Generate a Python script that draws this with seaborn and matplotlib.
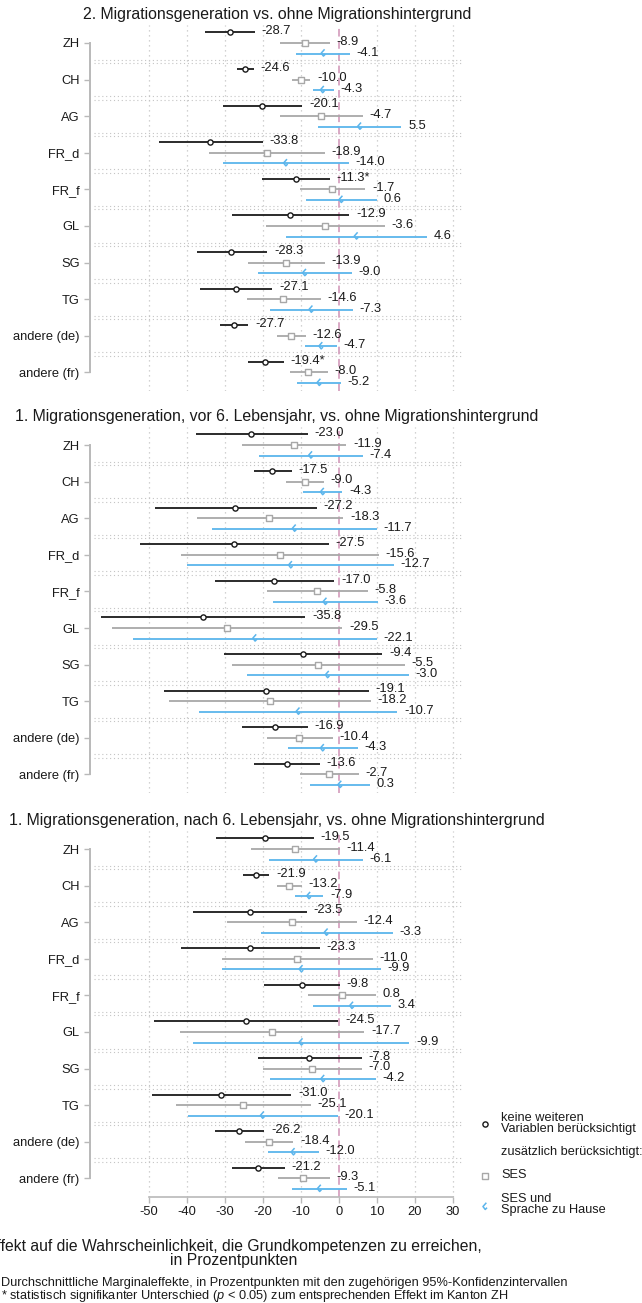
import numpy as np
import pandas as pd
import matplotlib
matplotlib.use("Agg")
import matplotlib.pyplot as plt
from matplotlib.path import Path
from matplotlib.markers import MarkerStyle
import seaborn as sns

# ---------------- data ----------------
cantons = ["ZH", "CH", "AG", "FR_d", "FR_f", "GL", "SG", "TG", "andere (de)", "andere (fr)"]
titles = [
    "2. Migrationsgeneration vs. ohne Migrationshintergrund",
    "1. Migrationsgeneration, vor 6. Lebensjahr, vs. ohne Migrationshintergrund",
    "1. Migrationsgeneration, nach 6. Lebensjahr, vs. ohne Migrationshintergrund",
]
x_ticks = [-50, -40, -30, -20, -10, 0, 10, 20, 30]

# panel 1: 2. Generation
p1_none_est = [-28.7, -24.6, -20.1, -33.8, -11.3, -12.9, -28.3, -27.1, -27.7, -19.4]
p1_none_lo = [-35.3, -26.8, -30.6, -47.4, -20.2, -28.2, -37.4, -36.6, -31.3, -24.0]
p1_none_hi = [-22.1, -22.4, -9.6, -20.0, -2.4, 2.8, -18.8, -17.5, -23.8, -14.5]
p1_none_sig = [0, 0, 0, 0, 1, 0, 0, 0, 0, 1]
p1_ses_est = [-8.9, -10.0, -4.7, -18.9, -1.7, -3.6, -13.9, -14.6, -12.6, -8.0]
p1_ses_lo = [-15.4, -12.4, -15.4, -34.2, -10.1, -19.2, -23.8, -24.1, -16.4, -12.9]
p1_ses_hi = [-2.4, -7.5, 6.3, -3.7, 7.0, 12.2, -3.7, -4.7, -8.7, -2.8]
p1_lang_est = [-4.1, -4.3, 5.5, -14.0, 0.6, 4.6, -9.0, -7.3, -4.7, -5.2]
p1_lang_lo = [-11.2, -6.9, -5.4, -30.6, -8.6, -13.8, -21.2, -18.1, -8.8, -11.0]
p1_lang_hi = [3.0, -1.3, 16.5, 2.6, 10.0, 23.2, 3.4, 3.7, -0.5, 0.6]

# panel 2: 1. Generation, vor 6. Lebensjahr
p2_none_est = [-23.0, -17.5, -27.2, -27.5, -17.0, -35.8, -9.4, -19.1, -16.9, -13.6]
p2_none_lo = [-37.7, -22.4, -48.4, -52.3, -32.5, -62.5, -30.3, -45.9, -25.5, -22.2]
p2_none_hi = [-8.2, -12.3, -5.8, -2.6, -1.2, -8.8, 11.5, 7.9, -8.2, -5.0]
p2_none_sig = [0] * 10
p2_ses_est = [-11.9, -9.0, -18.3, -15.6, -5.8, -29.5, -5.5, -18.2, -10.4, -2.7]
p2_ses_lo = [-25.4, -13.8, -37.4, -41.5, -19.0, -59.8, -28.2, -44.6, -19.0, -10.3]
p2_ses_hi = [2.0, -4.0, 1.2, 10.5, 7.7, 0.9, 17.3, 8.4, -1.6, 5.2]
p2_lang_est = [-7.4, -4.3, -11.7, -12.7, -3.6, -22.1, -3.0, -10.7, -4.3, 0.3]
p2_lang_lo = [-20.9, -9.5, -33.3, -39.9, -17.2, -54.1, -24.2, -36.7, -13.4, -7.5]
p2_lang_hi = [6.4, 0.9, 10.0, 14.5, 10.2, 10.0, 18.4, 15.4, 5.0, 8.2]

# panel 3: 1. Generation, nach 6. Lebensjahr
p3_none_est = [-19.5, -21.9, -23.5, -23.3, -9.8, -24.5, -7.8, -31.0, -26.2, -21.2]
p3_none_lo = [-32.2, -25.1, -38.5, -41.5, -19.8, -48.6, -21.4, -49.2, -32.5, -28.0]
p3_none_hi = [-6.6, -18.3, -8.5, -5.0, 0.3, -0.1, 6.0, -12.5, -19.6, -14.2]
p3_none_sig = [0] * 10
p3_ses_est = [-11.4, -13.2, -12.4, -11.0, 0.8, -17.7, -7.0, -25.1, -18.4, -9.3]
p3_ses_lo = [-23.1, -16.4, -29.5, -30.8, -8.1, -41.9, -19.9, -42.8, -24.7, -16.1]
p3_ses_hi = [0.3, -9.7, 4.8, 8.9, 9.8, 6.7, 6.0, -7.3, -12.0, -2.4]
p3_lang_est = [-6.1, -7.9, -3.3, -9.9, 3.4, -9.9, -4.2, -20.1, -12.0, -5.1]
p3_lang_lo = [-18.3, -11.5, -20.6, -30.8, -6.9, -38.4, -18.1, -39.7, -18.6, -12.3]
p3_lang_hi = [6.3, -4.1, 14.3, 11.1, 13.8, 18.6, 9.7, -0.3, -5.3, 2.2]

legend_labels = ["keine weiteren\nVariablen berücksichtigt", "zusätzlich berücksichtigt:",
                 "SES", "SES und\nSprache zu Hause"]
xlabel_lines = ["Effekt auf die Wahrscheinlichkeit, die Grundkompetenzen zu erreichen,",
                "in Prozentpunkten"]
note1 = "Durchschnittliche Marginaleffekte, in Prozentpunkten mit den zugehörigen 95%-Konfidenzintervallen"
note2 = r"* statistisch signifikanter Unterschied ($\it{p}$ < 0.05) zum entsprechenden Effekt im Kanton ZH"

# ---------------- style ----------------
sns.set_theme(style="white")
plt.rcParams["font.family"] = ["Liberation Sans", "DejaVu Sans"]
plt.rcParams["mathtext.fontset"] = "custom"
plt.rcParams["mathtext.it"] = "Liberation Sans:italic"
plt.rcParams["mathtext.rm"] = "Liberation Sans"

C_NONE = "#1a1a1a"
C_SES = "#a8a8a8"
C_LANG = "#5bb5ec"
C_AX = "#b9b9b9"
C_GRID = "#c4c4c4"
C_ZERO = "#cf92b5"
TXT = "#1a1a1a"

hook = MarkerStyle(Path([(0.30, 0.95), (-0.45, 0.10), (0.05, -0.55), (0.45, -0.15)],
                        [Path.MOVETO, Path.LINETO, Path.LINETO, Path.LINETO]))

W, H = 642, 1303
fig = plt.figure(figsize=(W / 100, H / 100), dpi=100)

def fx(px):
    return px / W

def fy(py):
    return 1 - py / H

panels = [
    (p1_none_est, p1_none_lo, p1_none_hi, p1_none_sig, p1_ses_est, p1_ses_lo, p1_ses_hi,
     p1_lang_est, p1_lang_lo, p1_lang_hi),
    (p2_none_est, p2_none_lo, p2_none_hi, p2_none_sig, p2_ses_est, p2_ses_lo, p2_ses_hi,
     p2_lang_est, p2_lang_lo, p2_lang_hi),
    (p3_none_est, p3_none_lo, p3_none_hi, p3_none_sig, p3_ses_est, p3_ses_lo, p3_ses_hi,
     p3_lang_est, p3_lang_lo, p3_lang_hi),
]
tops = [24.7, 426.7, 830.7]
title_y = [15, 417, 821]
AX_L, AX_R, AX_H = 90, 463, 366
OFF = 0.29

for k, (ne, nl, nh, ns, se, sl, sh, le, ll, lh) in enumerate(panels):
    top = tops[k]
    ax = fig.add_axes([fx(AX_L), fy(top + AX_H), (AX_R - AX_L) / W, AX_H / H])
    ypos = np.arange(len(cantons))
    ax.set_xlim(-65.5, 32.7)
    ax.set_ylim(9.5, -0.5)

    # grid
    for t in x_ticks:
        if t != 0:
            ax.axvline(t, color=C_GRID, lw=0.9, ls=(0, (1, 3)), zorder=0)
    for i in range(len(cantons) - 1):
        for d in (-0.045, 0.045):
            ax.axhline(i + 0.5 + d, xmin=0.012, color=C_GRID, lw=0.8, ls=(0, (1, 2.5)), zorder=0)
    ax.axvline(0, color=C_ZERO, lw=1.1, ls=(0, (5, 3)), zorder=1)

    series = [
        (ne, nl, nh, ns, -OFF, C_NONE, "o", 14, 1.0),
        (se, sl, sh, [0] * 10, 0.0, C_SES, "s", 16, 1.0),
        (le, ll, lh, [0] * 10, OFF, C_LANG, hook, 38, 1.1),
    ]
    for est, lo, hi, sig, off, col, mk, sz, mlw in series:
        yy = ypos + off
        ax.hlines(yy, lo, hi, color=col, lw=1.3, zorder=2)
        df = pd.DataFrame({"est": est, "y": yy})
        sns.scatterplot(data=df, x="est", y="y", ax=ax, marker=mk, s=sz,
                        facecolor="white" if mk != hook else "none",
                        edgecolor=col, linewidth=mlw, zorder=3, legend=False)
        for e, h, s_, y_ in zip(est, hi, sig, yy):
            lab = f"{e:.1f}" + ("*" if s_ else "")
            ax.annotate(lab, xy=(h, y_), xytext=(4.8, 0.8), textcoords="offset points",
                        va="center", ha="left", fontsize=9.3, color=TXT, zorder=4)

    ax.set_xlabel("")
    ax.set_ylabel("")
    ax.set_yticks(ypos)
    ax.set_yticklabels(cantons, fontsize=9.3, color=TXT)
    ax.tick_params(axis="y", length=4, width=1.0, color=C_AX, pad=3.5, left=True)
    for s in ["top", "right"]:
        ax.spines[s].set_visible(False)
    ax.spines["left"].set_color(C_AX)
    ax.spines["left"].set_linewidth(1.4)
    ax.spines["left"].set_bounds(0, 9)
    if k < 2:
        ax.spines["bottom"].set_visible(False)
        ax.set_xticks([])
    else:
        ax.spines["bottom"].set_color(C_AX)
        ax.spines["bottom"].set_linewidth(1.2)
        ax.spines["bottom"].set_bounds(-50, 30)
        ax.set_xticks(x_ticks)
        ax.set_xticklabels([str(t) for t in x_ticks], fontsize=9.3, color=TXT)
        ax.tick_params(axis="x", length=4, width=1.0, color=C_AX, pad=3, bottom=True)
    ax.patch.set_alpha(0)

    fig.text(fx(277), fy(title_y[k]), titles[k], ha="center", va="center",
             fontsize=11.4, color=TXT)

# axis title and notes
fig.text(fx(234), fy(1246), xlabel_lines[0], ha="center", va="center", fontsize=11.3, color=TXT)
fig.text(fx(234), fy(1260), xlabel_lines[1], ha="center", va="center", fontsize=11.3, color=TXT)
fig.text(fx(1), fy(1283), note1, ha="left", va="center", fontsize=9.2, color=TXT)
fig.text(fx(1), fy(1296), note2, ha="left", va="center", fontsize=9.2, color=TXT)

# legend
lax = fig.add_axes([fx(470), fy(1225), 172 / W, 125 / H])
leg_df = pd.DataFrame({"x": [485, 485, 485], "y": [1124, 1176, 1207]})
sns.scatterplot(data=leg_df.iloc[[0]], x="x", y="y", ax=lax, marker="o", s=14,
                facecolor="white", edgecolor=C_NONE, linewidth=1.0, legend=False)
sns.scatterplot(data=leg_df.iloc[[1]], x="x", y="y", ax=lax, marker="s", s=16,
                facecolor="white", edgecolor=C_SES, linewidth=1.0, legend=False)
sns.scatterplot(data=leg_df.iloc[[2]], x="x", y="y", ax=lax, marker=hook, s=38,
                facecolor="none", edgecolor=C_LANG, linewidth=1.1, legend=False)
lax.set_xlabel("")
lax.set_ylabel("")
lax.set_xlim(470, 642)
lax.set_ylim(1225, 1100)
lax.axis("off")
leg_ys = [1123.5, 1152, 1175.5, 1204.5]
for lab, yv in zip(legend_labels, leg_ys):
    lax.text(501, yv, lab, ha="left", va="center", fontsize=9.2, color=TXT, linespacing=0.95)

fig.savefig("out.png", dpi=100)
